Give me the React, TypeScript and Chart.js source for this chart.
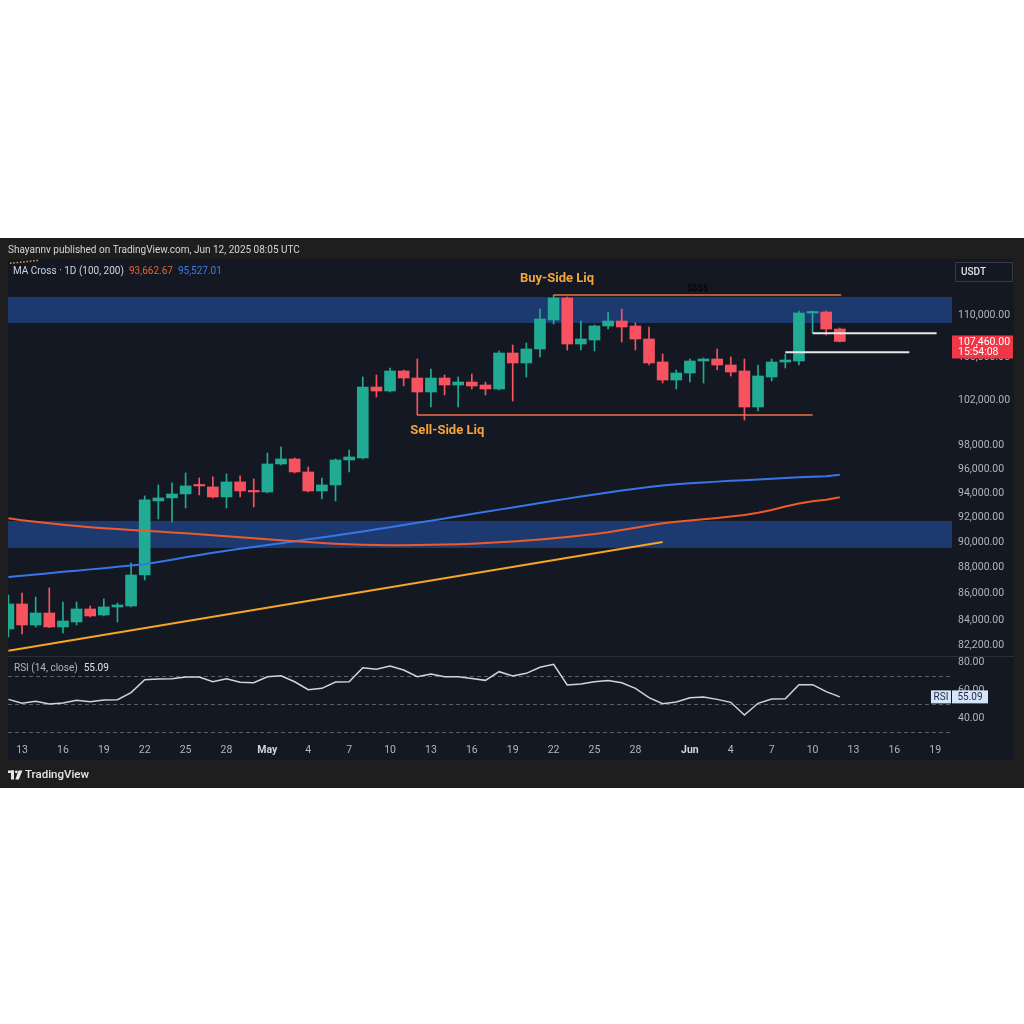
import React, { useEffect, useRef } from "react";
import { Chart, registerables } from "chart.js";

Chart.register(...registerables);

// ---------------- data ----------------
const dates = [
  "Apr 12", "Apr 13", "Apr 14", "Apr 15", "Apr 16", "Apr 17", "Apr 18", "Apr 19", "Apr 20", "Apr 21",
  "Apr 22", "Apr 23", "Apr 24", "Apr 25", "Apr 26", "Apr 27", "Apr 28", "Apr 29", "Apr 30",
  "May 1", "May 2", "May 3", "May 4", "May 5", "May 6", "May 7", "May 8", "May 9", "May 10",
  "May 11", "May 12", "May 13", "May 14", "May 15", "May 16", "May 17", "May 18", "May 19", "May 20",
  "May 21", "May 22", "May 23", "May 24", "May 25", "May 26", "May 27", "May 28", "May 29", "May 30", "May 31",
  "Jun 1", "Jun 2", "Jun 3", "Jun 4", "Jun 5", "Jun 6", "Jun 7", "Jun 8", "Jun 9", "Jun 10", "Jun 11", "Jun 12",
];

const opens = [
  83375, 85235, 83669, 84560, 83522, 83892, 84860, 84411, 85009, 85085,
  87443, 93349, 93597, 93928, 94677, 94510, 93679, 94928, 94177,
  94094, 96446, 96873, 95768, 94177, 94677, 96787, 96958, 103227, 102863,
  104695, 104051, 102773, 104051, 103410, 103684, 103410, 103046, 106372, 105438,
  106748, 109516, 111663, 107220, 107599, 108937, 109419, 108937, 107695, 105531, 103867,
  104511, 105624, 105810, 105252, 104695, 101421, 104143, 105531, 105624, 110194, 110292, 108645,
];
const highs = [
  85914, 86066, 85763, 86448, 85385, 85385, 85085, 85612, 85310, 88374,
  93762, 94677, 94844, 95684, 95263, 95348, 95600, 95432, 95180,
  97387, 97904, 96958, 96191, 95263, 96873, 97646, 104143, 104326, 104974,
  104788, 105810, 104881, 104326, 104143, 104419, 103684, 106560, 107126, 107315,
  110584, 111959, 111760, 109419, 109030, 110292, 110584, 109226, 108841, 106279, 104788,
  105810, 105903, 106748, 106003, 105810, 105252, 105810, 106279, 110389, 110389, 110389, 108746,
];
const lows = [
  82790, 83009, 83522, 83480, 83083, 83669, 84262, 84337, 83892, 85009,
  87058, 91880, 91637, 92774, 93845, 93597, 92774, 93679, 92855,
  94010, 96360, 95684, 94094, 93514, 93349, 95768, 96873, 102320, 102773,
  103319, 100707, 101421, 102500, 101421, 103046, 102500, 102950, 101959, 104143,
  106003, 109130, 106654, 106654, 106560, 108649, 107410, 106654, 105252, 103592, 103046,
  103684, 103592, 104788, 104234, 100265, 101064, 103775, 104974, 105252, 108266, 108075, 107410,
];
const closes = [
  85235, 83669, 84560, 83522, 83965, 84860, 84337, 85009, 85160, 87443,
  93432, 93597, 93928, 94594, 94594, 93679, 94928, 94177, 94094,
  96446, 96873, 95768, 94177, 94677, 96787, 97044, 103227, 102863, 104695,
  104051, 102773, 104051, 103410, 103684, 103319, 103046, 106372, 105438, 106748,
  109612, 111663, 107220, 107695, 108937, 109419, 108841, 107695, 105438, 103867, 104511,
  105624, 105810, 105252, 104603, 101421, 104234, 105531, 105717, 110194, 110292, 108645, 107460,
];

// MA(100) – orange, MA(200) – blue
const ma100 = [
  91934, 91780, 91642, 91520, 91408, 91302, 91214, 91134, 91061, 90989,
  90925, 90860, 90789, 90717, 90644, 90573, 90493, 90413, 90333, 90254,
  90175, 90095, 90023, 89951, 89888, 89841, 89809, 89785, 89777, 89777,
  89785, 89801, 89825, 89857, 89897, 89945, 90000, 90061, 90140, 90228,
  90324, 90428, 90541, 90660, 90804, 90981, 91166, 91351, 91528, 91650,
  91747, 91852, 91958, 92072, 92202, 92389, 92610, 92888, 93135, 93316,
  93448, 93663,
];
const ma200 = [
  87292, 87391, 87484, 87585, 87685, 87778, 87878, 87971, 88073, 88174,
  88275, 88455, 88635, 88815, 88995, 89169, 89334, 89485, 89634, 89785,
  89936, 90086, 90237, 90389, 90541, 90700, 90860, 91038, 91215, 91383,
  91561, 91740, 91918, 92097, 92276, 92455, 92636, 92816, 92996, 93177,
  93358, 93540, 93714, 93887, 94053, 94211, 94360, 94502, 94628, 94728,
  94812, 94887, 94955, 95021, 95080, 95139, 95198, 95257, 95316, 95366,
  95416, 95527,
];

const rsiValues = [
  53.3, 50.5, 51.9, 50.0, 50.7, 52.6, 51.7, 52.9, 53.1, 58.1,
  67.4, 67.9, 68.1, 69.3, 69.3, 65.9, 68.1, 65.5, 65.2,
  69.5, 70.2, 65.9, 60.2, 61.2, 65.7, 65.9, 75.9, 74.8, 77.1,
  74.3, 69.5, 71.4, 69.5, 69.5, 68.3, 66.9, 73.1, 70.0, 71.9,
  76.2, 78.3, 63.6, 64.3, 65.9, 66.7, 65.2, 61.2, 54.5, 50.2, 51.4,
  54.5, 55.0, 53.3, 51.2, 42.1, 50.5, 53.6, 53.8, 63.8, 63.8, 58.8, 55.09,
];

const tickPositions = [1, 4, 7, 10, 13, 16, 19, 22, 25, 28, 31, 34, 37, 40, 43, 46, 50, 53, 56, 59, 62, 65, 68];
const tickLabels = ["13", "16", "19", "22", "25", "28", "May", "4", "7", "10", "13", "16", "19", "22", "25", "28", "Jun", "4", "7", "10", "13", "16", "19"];
const priceTicks = [110000, 106000, 102000, 98000, 96000, 94000, 92000, 90000, 88000, 86000, 84000, 82200];
const rsiTicks = [80, 60, 40];
const rsiLevels = [70, 50, 30];

const zoneLows = [109226, 89553];
const zoneHighs = [111760, 91713];

const trendDays = [0, 48];
const trendPrices = [81790, 90030];
const buySideDays = [40, 61.1];
const buySidePrice = 111959;
const sellSideDays = [30, 59];
const sellSidePrice = 100707;
const upperMarkDays = [59, 68.1];
const upperMarkPrice = 108250;
const lowerMarkDays = [57, 66.1];
const lowerMarkPrice = 106440;

const noteTexts = ["Buy-Side Liq", "Sell-Side Liq", "$$$$"];
const noteDays = [40.25, 32.2, 50.56];
const notePrices = [113551, 99339, 112604];

const maLegendValues = [93662.67, 95527.01];
const countdown = "15:54:08";

// ---------------- styles / layout ----------------
const FONT = "Roboto, 'Liberation Sans', sans-serif";
const FRAME = "#1e1e1e";
const PANEL = "#141823";
const ZONE = "#1d3a70";
const UP = "#22ab94";
const DOWN = "#f7525f";
const AXIS_TXT = "#b2b5be";
const X_MIN = -0.03;
const X_MAX = 69.23;
const P_MIN = 81409;
const P_MAX = 115574;
const R_MIN = 24.29;
const R_MAX = 84.29;
const PANEL_LEFT = 8;
const PANEL_RIGHT = 1014;
const TIME_ROW = 20;

const fmtPrice = (v: number) =>
  v.toLocaleString("en-US", { minimumFractionDigits: 2, maximumFractionDigits: 2 });

const lineSeg = (days: number[], price: number, color: string, width: number) => ({
  type: "line" as const,
  data: days.map((d) => ({ x: d, y: price })),
  borderColor: color,
  borderWidth: width,
  pointRadius: 0,
  yAxisID: "y",
  order: 0,
});

const tvPlugin = {
  id: "tvDecor",
  beforeDraw(chart: any) {
    const { ctx, chartArea: ca } = chart;
    ctx.save();
    ctx.fillStyle = FRAME;
    ctx.fillRect(0, 0, chart.width, chart.height);
    ctx.fillStyle = PANEL;
    ctx.fillRect(PANEL_LEFT, ca.top, PANEL_RIGHT - PANEL_LEFT, ca.bottom + TIME_ROW - ca.top);
    ctx.restore();
  },
  beforeDatasetsDraw(chart: any) {
    const { ctx, chartArea: ca, scales } = chart;
    const y = scales.y;
    const r = scales.rsi;
    ctx.save();
    ctx.fillStyle = ZONE;
    for (let i = 0; i < zoneLows.length; i++) {
      const t = y.getPixelForValue(zoneHighs[i]);
      const b = y.getPixelForValue(zoneLows[i]);
      ctx.fillRect(ca.left, t, ca.right - ca.left, b - t);
    }
    // pane separator
    ctx.strokeStyle = "#2a2e39";
    ctx.lineWidth = 1;
    const sy = Math.round(y.bottom) + 0.5;
    ctx.beginPath();
    ctx.moveTo(PANEL_LEFT, sy);
    ctx.lineTo(PANEL_RIGHT, sy);
    ctx.stroke();
    // RSI levels
    ctx.setLineDash([4, 3]);
    ctx.strokeStyle = "#5d606b";
    for (const lv of rsiLevels) {
      const py = Math.round(r.getPixelForValue(lv)) + 0.5;
      ctx.beginPath();
      ctx.moveTo(ca.left, py);
      ctx.lineTo(ca.right, py);
      ctx.stroke();
    }
    ctx.restore();
  },
  afterDatasetsDraw(chart: any) {
    const { ctx, scales } = chart;
    const x = scales.x;
    const y = scales.y;
    ctx.save();
    ctx.textAlign = "center";
    ctx.textBaseline = "middle";
    for (let i = 0; i < noteTexts.length; i++) {
      const px = x.getPixelForValue(noteDays[i]);
      const py = y.getPixelForValue(notePrices[i]);
      if (i < 2) {
        ctx.font = `bold 13px ${FONT}`;
        ctx.fillStyle = "#f5a43a";
      } else {
        ctx.font = `bold 9px ${FONT}`;
        ctx.fillStyle = "#050608";
      }
      ctx.fillText(noteTexts[i], px, py);
    }
    ctx.restore();
  },
  afterDraw(chart: any) {
    const { ctx, chartArea: ca, scales } = chart;
    const y = scales.y;
    const r = scales.rsi;
    ctx.save();
    ctx.textBaseline = "middle";
    ctx.textAlign = "left";

    // header
    ctx.font = `10px ${FONT}`;
    ctx.fillStyle = "#d6d6d6";
    ctx.fillText("Shayannv published on TradingView.com, Jun 12, 2025 08:05 UTC", 8, 12);

    // small dotted mark
    ctx.fillStyle = "#f5a43a";
    for (let i = 0; i < 9; i++) {
      ctx.fillRect(10 + i * 3.3, 24.5 - i * 0.35, 1.5, 1.5);
    }

    // MA legend
    let lx = 13;
    const ly = ca.top + 12;
    ctx.font = `10px ${FONT}`;
    ctx.fillStyle = "#d1d4dc";
    const lt = "MA Cross · 1D (100, 200)";
    ctx.fillText(lt, lx, ly);
    lx += ctx.measureText(lt).width + 5;
    ctx.fillStyle = "#f0612e";
    const v1 = fmtPrice(maLegendValues[0]);
    ctx.fillText(v1, lx, ly);
    lx += ctx.measureText(v1).width + 5;
    ctx.fillStyle = "#3f7be6";
    ctx.fillText(fmtPrice(maLegendValues[1]), lx, ly);

    // USDT box
    ctx.strokeStyle = "#363a45";
    ctx.lineWidth = 1;
    ctx.strokeRect(955.5, ca.top + 3.5, 57, 19);
    ctx.fillStyle = "#e0e3eb";
    ctx.font = `500 10px ${FONT}`;
    ctx.fillText("USDT", 961, ca.top + 13);

    // last price tag
    const last = closes[closes.length - 1];
    const py = y.getPixelForValue(last);
    ctx.fillStyle = "#f23645";
    ctx.fillRect(952, py - 6, 61, 23);
    ctx.fillStyle = "#ffffff";
    ctx.font = `10.5px ${FONT}`;
    ctx.fillText(fmtPrice(last), 958, py + 0.5);
    ctx.fillText(countdown, 958, py + 11);

    // RSI legend
    const rt = r.top + 12;
    ctx.font = `10px ${FONT}`;
    ctx.fillStyle = AXIS_TXT;
    const rl = "RSI (14, close)";
    ctx.fillText(rl, 14, rt);
    ctx.fillStyle = "#e0e3eb";
    const rv = rsiValues[rsiValues.length - 1].toFixed(2);
    ctx.fillText(rv, 14 + ctx.measureText(rl).width + 6, rt);

    // RSI tag
    const ry = r.getPixelForValue(rsiValues[rsiValues.length - 1]);
    ctx.fillStyle = "#d6e4f8";
    ctx.fillRect(931, ry - 6.5, 20, 13);
    ctx.fillRect(952, ry - 6.5, 36, 13);
    ctx.fillStyle = "#1b2740";
    ctx.textAlign = "center";
    ctx.font = `10px ${FONT}`;
    ctx.fillText("RSI", 941, ry + 0.5);
    ctx.fillText(rv, 970, ry + 0.5);

    // footer logo
    const fy = ca.bottom + TIME_ROW + 15;
    ctx.fillStyle = "#e6e6e6";
    ctx.fillRect(8, fy - 4.5, 6, 2.5);
    ctx.fillRect(11, fy - 4.5, 3, 9);
    ctx.beginPath();
    ctx.arc(16.3, fy - 3.2, 1.4, 0, Math.PI * 2);
    ctx.fill();
    ctx.beginPath();
    ctx.moveTo(18.5, fy - 4.5);
    ctx.lineTo(22.5, fy - 4.5);
    ctx.lineTo(18.8, fy + 4.5);
    ctx.lineTo(15.3, fy + 4.5);
    ctx.closePath();
    ctx.fill();
    ctx.textAlign = "left";
    ctx.font = `500 11.5px ${FONT}`;
    ctx.fillText("TradingView", 25, fy + 0.5);
    ctx.restore();
  },
};

export default function App() {
  const ref = useRef<HTMLCanvasElement | null>(null);

  useEffect(() => {
    if (!ref.current) return;
    const bodies = dates.map((_, i) => ({ x: i, y: [opens[i], closes[i]] }));
    const wicks = dates.map((_, i) => ({ x: i, y: [lows[i], highs[i]] }));
    const candleColors = dates.map((_, i) => (closes[i] >= opens[i] ? UP : DOWN));

    const chart = new Chart(ref.current, {
      type: "line",
      data: {
        datasets: [
          {
            type: "line",
            label: "MA 100",
            data: dates.map((_, i) => ({ x: i, y: ma100[i] })),
            borderColor: "#f05a28",
            borderWidth: 2,
            pointRadius: 0,
            yAxisID: "y",
            order: 0,
          },
          {
            type: "line",
            label: "MA 200",
            data: dates.map((_, i) => ({ x: i, y: ma200[i] })),
            borderColor: "#3676e8",
            borderWidth: 2,
            pointRadius: 0,
            yAxisID: "y",
            order: 0,
          },
          {
            type: "line",
            label: "Trend",
            data: trendDays.map((d, i) => ({ x: d, y: trendPrices[i] })),
            borderColor: "#f6a623",
            borderWidth: 2,
            pointRadius: 0,
            yAxisID: "y",
            order: 0,
          },
          lineSeg(buySideDays, buySidePrice, "#ea7045", 1.5),
          lineSeg(sellSideDays, sellSidePrice, "#ea7045", 1.5),
          lineSeg(upperMarkDays, upperMarkPrice, "#e8e8e8", 2),
          lineSeg(lowerMarkDays, lowerMarkPrice, "#e8e8e8", 2),
          {
            type: "line",
            label: "RSI",
            data: dates.map((_, i) => ({ x: i, y: rsiValues[i] })),
            borderColor: "#d1d4dc",
            borderWidth: 1.5,
            pointRadius: 0,
            yAxisID: "rsi",
            order: 0,
          },
          {
            type: "bar",
            label: "body",
            data: bodies as any,
            backgroundColor: candleColors,
            borderWidth: 0,
            grouped: false,
            barThickness: 11,
            maxBarThickness: 11,
            minBarLength: 1.5,
            yAxisID: "y",
            order: 1,
          } as any,
          {
            type: "bar",
            label: "wick",
            data: wicks as any,
            backgroundColor: candleColors,
            borderWidth: 0,
            grouped: false,
            barThickness: 1,
            maxBarThickness: 1,
            yAxisID: "y",
            order: 2,
          } as any,
        ],
      },
      options: {
        responsive: false,
        maintainAspectRatio: false,
        devicePixelRatio: 1,
        animation: false,
        events: [],
        layout: { padding: { left: PANEL_LEFT, top: 21, right: 0, bottom: 0 } },
        plugins: { legend: { display: false }, tooltip: { enabled: false } },
        scales: {
          x: {
            type: "linear",
            position: "bottom",
            min: X_MIN,
            max: X_MAX,
            offset: false,
            grid: { display: false, drawTicks: false },
            border: { display: false },
            afterBuildTicks: (s: any) => {
              s.ticks = tickPositions.map((v) => ({ value: v }));
            },
            afterFit: (s: any) => {
              s.height = 48;
            },
            ticks: {
              autoSkip: false,
              maxRotation: 0,
              padding: 4,
              callback: (_v: any, i: number) => tickLabels[i],
              color: (c: any) => (/^[A-Z]/.test(tickLabels[c.index] || "") ? "#d1d4dc" : AXIS_TXT),
              font: (c: any) => ({
                family: FONT,
                size: 10.5,
                weight: /^[A-Z]/.test(tickLabels[c.index] || "") ? "bold" : "normal",
              }),
            },
          },
          y: {
            type: "logarithmic",
            position: "right",
            stack: "pane",
            stackWeight: 397,
            min: P_MIN,
            max: P_MAX,
            bounds: "data",
            grid: { display: false, drawTicks: false },
            border: { display: false },
            afterBuildTicks: (s: any) => {
              s.ticks = priceTicks.map((v) => ({ value: v }));
            },
            afterFit: (s: any) => {
              s.width = 72;
            },
            ticks: {
              autoSkip: false,
              padding: 6,
              color: AXIS_TXT,
              font: { family: FONT, size: 10.5 },
              callback: (v: any) => fmtPrice(Number(v)),
            },
          },
          rsi: {
            type: "linear",
            axis: "y",
            position: "right",
            stack: "pane",
            stackWeight: 84,
            min: R_MIN,
            max: R_MAX,
            grid: { display: false, drawTicks: false },
            border: { display: false },
            afterBuildTicks: (s: any) => {
              s.ticks = rsiTicks.map((v) => ({ value: v }));
            },
            afterFit: (s: any) => {
              s.width = 72;
            },
            ticks: {
              autoSkip: false,
              padding: 6,
              color: AXIS_TXT,
              font: { family: FONT, size: 10.5 },
              callback: (v: any) => Number(v).toFixed(2),
            },
          },
        } as any,
      },
      plugins: [tvPlugin],
    } as any);

    return () => chart.destroy();
  }, []);

  return (
    <div style={{ position: "fixed", left: 0, top: 0, width: 1024, height: 1024, background: "#ffffff" }}>
      <canvas
        ref={ref}
        width={1024}
        height={550}
        style={{ position: "absolute", left: 0, top: 238, width: 1024, height: 550, display: "block" }}
      />
    </div>
  );
}
